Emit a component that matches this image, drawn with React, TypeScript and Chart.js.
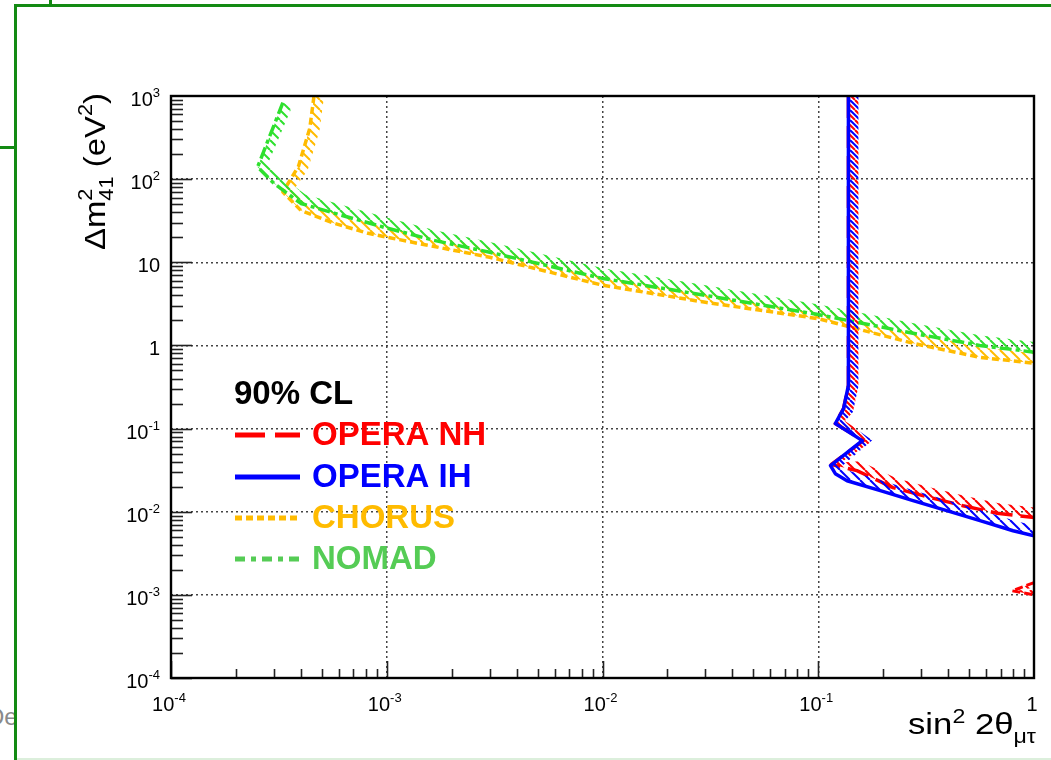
import React, { useEffect, useRef } from 'react';
import { Chart, registerables } from 'chart.js';

Chart.register(...registerables);

// ---------- axis ticks ----------
const xTickValues = [1e-4, 1e-3, 1e-2, 1e-1, 1];
const xTickLabels = ['10^-4', '10^-3', '10^-2', '10^-1', '1'];
const yTickValues = [1e-4, 1e-3, 1e-2, 1e-1, 1, 10, 100, 1000];
const yTickLabels = ['10^-4', '10^-3', '10^-2', '10^-1', '1', '10', '10^2', '10^3'];

// ---------- exclusion contours (sin^2 2θ, Δm^2) ----------
const ihX = [0.138, 0.138, 0.131, 0.120, 0.160, 0.114, 0.120, 0.136, 0.194, 0.275, 0.394, 0.562, 0.80, 1.0];
const ihY = [1000, 0.33, 0.174, 0.115, 0.0716, 0.0358, 0.0287, 0.0236, 0.0179, 0.0136, 0.0103, 0.0078, 0.0059, 0.00514];

const nhX = [0.138, 0.138, 0.131, 0.120, 0.162, 0.115, 0.151, 0.222, 0.33, 0.469, 0.674, 1.0];
const nhY = [1000, 0.33, 0.174, 0.115, 0.0716, 0.037, 0.0312, 0.0195, 0.0148, 0.0118, 0.0096, 0.0085];

const nhIslandX = [1.0, 0.79, 1.0];
const nhIslandY = [1.4e-3, 1.12e-3, 1.0e-3];

const chorusX = [4.6e-4, 4.4e-4, 3.9e-4, 3.3e-4, 4.0e-4, 5.7e-4, 8.2e-4, 1.39e-3, 3.0e-3, 1e-2, 3e-2, 1e-1, 0.275, 0.56, 1.0];
const chorusY = [1000, 411, 143, 70, 42, 29.5, 22.3, 16.9, 11.5, 5.3, 3.3, 2.1, 1.06, 0.72, 0.61];

const nomadX = [3.3e-4, 2.52e-4, 3.0e-4, 4.0e-4, 5.7e-4, 9.7e-4, 1.65e-3, 3.0e-3, 1e-2, 3e-2, 1e-1, 0.275, 0.56, 1.0];
const nomadY = [830, 140, 89, 51, 39, 26.4, 18.4, 13.2, 6.4, 4.0, 2.35, 1.40, 1.0, 0.83];

// ---------- legend ----------
const legendTitle = '90% CL';
const legendLabels = ['OPERA NH', 'OPERA IH', 'CHORUS', 'NOMAD'];

// ---------- styles ----------
const RED = '#ff0000';
const BLUE = '#0000ff';
const ORANGE = '#ffbb00';
const GREEN = '#2ee02e';
const GREEN_TEXT = '#55cc55';
const FONT = '"Liberation Sans", Arial, Helvetica, sans-serif';
const SLIDE_GREEN = '#138a13';

const legendColors = [RED, BLUE, ORANGE, GREEN_TEXT];
const legendLineColors = [RED, BLUE, ORANGE, GREEN_TEXT];
const legendDashes = [[30, 10], [], [7, 4], [10, 6, 5, 6]];

const pts = (xs: number[], ys: number[]) => xs.map((x, i) => ({ x, y: ys[i] }));

type Seg = { t: string; s: number; dy: number; stack?: boolean };

function richWidth(ctx: CanvasRenderingContext2D, segs: Seg[], weight: string) {
  let w = 0;
  let prevW = 0;
  for (const seg of segs) {
    ctx.font = `${weight} ${seg.s}px ${FONT}`;
    const sw = ctx.measureText(seg.t).width;
    if (seg.stack) {
      w += Math.max(0, sw - prevW);
      prevW = Math.max(prevW, sw);
    } else {
      w += sw;
      prevW = sw;
    }
  }
  return w;
}

function drawRich(
  ctx: CanvasRenderingContext2D,
  segs: Seg[],
  x: number,
  y: number,
  weight: string,
  color: string,
  scaleX = 1,
  rotate = 0
) {
  ctx.save();
  ctx.translate(x, y);
  if (rotate) ctx.rotate(rotate);
  ctx.scale(scaleX, 1);
  ctx.fillStyle = color;
  ctx.textAlign = 'left';
  ctx.textBaseline = 'alphabetic';
  let cx = 0;
  let prevX = 0;
  let prevW = 0;
  for (const seg of segs) {
    ctx.font = `${weight} ${seg.s}px ${FONT}`;
    const sw = ctx.measureText(seg.t).width;
    if (seg.stack) {
      ctx.fillText(seg.t, prevX, seg.dy);
      cx = prevX + Math.max(prevW, sw);
      prevW = Math.max(prevW, sw);
    } else {
      ctx.fillText(seg.t, cx, seg.dy);
      prevX = cx;
      prevW = sw;
      cx += sw;
    }
  }
  ctx.restore();
}

function tickSegs(label: string): Seg[] {
  const [base, exp] = label.split('^');
  const segs: Seg[] = [{ t: base, s: 20, dy: 0 }];
  if (exp) segs.push({ t: exp, s: 13, dy: -9 });
  return segs;
}

const patternCache: Record<string, CanvasPattern | null> = {};
function hatchPattern(ctx: CanvasRenderingContext2D, color: string, phase: number) {
  const key = color + phase;
  if (patternCache[key]) return patternCache[key];
  const s = 10;
  const c = document.createElement('canvas');
  c.width = s;
  c.height = s;
  const g = c.getContext('2d')!;
  g.strokeStyle = color;
  g.lineWidth = 2;
  for (let k = -2; k <= 1; k++) {
    g.beginPath();
    g.moveTo(k * s + phase, 0);
    g.lineTo(k * s + s + phase, s);
    g.stroke();
  }
  const p = ctx.createPattern(c, 'repeat');
  patternCache[key] = p;
  return p;
}

const hatchPlugin = {
  id: 'hatchBand',
  beforeDatasetDraw(chart: any, args: any) {
    const ds = chart.data.datasets[args.index];
    if (!ds.hatch) return;
    const p = args.meta.data.map((e: any) => ({ x: e.x, y: e.y }));
    const n = p.length;
    if (n < 2) return;
    const w = ds.hatchWidth ?? 10;
    const segN: { x: number; y: number }[] = [];
    for (let i = 0; i < n - 1; i++) {
      const dx = p[i + 1].x - p[i].x;
      const dy = p[i + 1].y - p[i].y;
      const l = Math.hypot(dx, dy) || 1;
      segN.push({ x: dy / l, y: -dx / l });
    }
    const off = p.map((pt: any, i: number) => {
      let nx = 0;
      let ny = 0;
      if (i > 0) { nx += segN[i - 1].x; ny += segN[i - 1].y; }
      if (i < n - 1) { nx += segN[i].x; ny += segN[i].y; }
      const l = Math.hypot(nx, ny) || 1;
      return { x: pt.x + (nx / l) * w, y: pt.y + (ny / l) * w };
    });
    const ctx = chart.ctx as CanvasRenderingContext2D;
    const a = chart.chartArea;
    ctx.save();
    ctx.beginPath();
    ctx.rect(a.left, a.top, a.right - a.left, a.bottom - a.top);
    ctx.clip();
    ctx.beginPath();
    ctx.moveTo(p[0].x, p[0].y);
    for (let i = 1; i < n; i++) ctx.lineTo(p[i].x, p[i].y);
    for (let i = n - 1; i >= 0; i--) ctx.lineTo(off[i].x, off[i].y);
    ctx.closePath();
    ctx.fillStyle = hatchPattern(ctx, ds.hatch, ds.hatchPhase ?? 0) as any;
    ctx.fill();
    ctx.restore();
  },
};

const decorPlugin = {
  id: 'rootDecor',
  afterDraw(chart: any) {
    const ctx = chart.ctx as CanvasRenderingContext2D;
    const a = chart.chartArea;
    const xs = chart.scales.x;
    const ys = chart.scales.y;

    // tick marks (inside the frame)
    ctx.save();
    ctx.strokeStyle = '#222';
    ctx.lineWidth = 1.6;
    for (let d = -4; d <= 2; d++) {
      for (let m = 1; m <= 9; m++) {
        const v = m * Math.pow(10, d);
        const py = Math.round(ys.getPixelForValue(v)) + 0.5;
        const len = m === 1 ? 21 : 12;
        ctx.beginPath();
        ctx.moveTo(a.left, py);
        ctx.lineTo(a.left + len, py);
        ctx.stroke();
      }
    }
    for (let d = -4; d <= -1; d++) {
      for (let m = 1; m <= 9; m++) {
        const v = m * Math.pow(10, d);
        const px = Math.round(xs.getPixelForValue(v)) + 0.5;
        const len = m === 1 ? 17 : 9;
        ctx.beginPath();
        ctx.moveTo(px, a.bottom);
        ctx.lineTo(px, a.bottom - len);
        ctx.stroke();
      }
    }
    // frame
    ctx.lineWidth = 2.4;
    ctx.strokeStyle = '#000';
    ctx.strokeRect(a.left, a.top, a.right - a.left, a.bottom - a.top);
    ctx.restore();

    // tick labels
    yTickValues.forEach((v, i) => {
      const segs = tickSegs(yTickLabels[i]);
      const w = richWidth(ctx, segs, 'normal');
      const py = ys.getPixelForValue(v);
      drawRich(ctx, segs, 160 - w, py + 10, 'normal', '#000');
    });
    xTickValues.forEach((v, i) => {
      const segs = tickSegs(xTickLabels[i]);
      const w = richWidth(ctx, segs, 'normal');
      const px = xs.getPixelForValue(v);
      drawRich(ctx, segs, px - 2 - w / 2, 711, 'normal', '#000');
    });

    // axis titles
    const xTitle: Seg[] = [
      { t: 'sin', s: 30, dy: 0 },
      { t: '2', s: 20, dy: -11 },
      { t: ' 2θ', s: 30, dy: 0 },
      { t: 'μτ', s: 20, dy: 9 },
    ];
    const xw = richWidth(ctx, xTitle, 'normal');
    drawRich(ctx, xTitle, 908, 734, 'normal', '#000', 128 / xw);

    const yTitle: Seg[] = [
      { t: 'Δm', s: 30, dy: 0 },
      { t: '2', s: 20, dy: -13 },
      { t: '41', s: 20, dy: 8, stack: true },
      { t: ' (eV', s: 30, dy: 0 },
      { t: '2', s: 20, dy: -13 },
      { t: ')', s: 30, dy: 0 },
    ];
    const yw = richWidth(ctx, yTitle, 'normal');
    drawRich(ctx, yTitle, 105, 250, 'normal', '#000', 157 / yw, -Math.PI / 2);

    // legend
    ctx.save();
    ctx.textAlign = 'left';
    ctx.textBaseline = 'alphabetic';
    ctx.font = `bold 33px ${FONT}`;
    ctx.fillStyle = '#000';
    ctx.fillText(legendTitle, 234, 404);
    const baselines = [445, 487, 528, 569];
    legendLabels.forEach((lab, i) => {
      const by = baselines[i];
      const ly = by - 10;
      ctx.save();
      ctx.strokeStyle = legendLineColors[i];
      ctx.lineWidth = 5;
      ctx.setLineDash(legendDashes[i]);
      ctx.beginPath();
      ctx.moveTo(235, ly);
      ctx.lineTo(300, ly);
      ctx.stroke();
      ctx.restore();
      ctx.font = `bold 33px ${FONT}`;
      ctx.fillStyle = legendColors[i];
      ctx.fillText(lab, 312, by);
    });
    ctx.restore();
  },
};

export default function App() {
  const ref = useRef<HTMLCanvasElement>(null);
  useEffect(() => {
    const canvas = ref.current!;
    const common = {
      showLine: true,
      pointRadius: 0,
      pointHoverRadius: 0,
      fill: false,
      tension: 0,
      borderCapStyle: 'butt',
      borderJoinStyle: 'round',
    };
    const chart = new Chart(canvas, {
      type: 'scatter',
      data: {
        datasets: [
          { ...common, label: 'OPERA IH', data: pts(ihX, ihY), borderColor: BLUE, borderWidth: 3.5, order: 0, hatch: BLUE, hatchPhase: 0 } as any,
          { ...common, label: 'OPERA NH', data: pts(nhX, nhY), borderColor: RED, borderWidth: 3.5, borderDash: [22, 8], order: 1, hatch: RED, hatchPhase: 5 } as any,
          { ...common, label: 'OPERA NH (island)', data: pts(nhIslandX, nhIslandY), borderColor: RED, borderWidth: 3, borderDash: [8, 4], order: 1, hatch: RED, hatchWidth: 5 } as any,
          { ...common, label: 'NOMAD', data: pts(nomadX, nomadY), borderColor: GREEN, borderWidth: 3.5, borderDash: [12, 4, 4, 4], order: 2, hatch: GREEN } as any,
          { ...common, label: 'CHORUS', data: pts(chorusX, chorusY), borderColor: ORANGE, borderWidth: 3.5, borderDash: [7, 4], order: 3, hatch: ORANGE } as any,
        ],
      },
      options: {
        responsive: false,
        animation: false,
        devicePixelRatio: 1,
        events: [],
        layout: { padding: { left: 171, top: 96, right: 17, bottom: 82 } },
        plugins: { legend: { display: false }, tooltip: { enabled: false } },
        scales: {
          x: {
            type: 'logarithmic',
            min: 1e-4,
            max: 1,
            afterBuildTicks: (s: any) => { s.ticks = xTickValues.map((v) => ({ value: v })); },
            ticks: { display: false },
            grid: { color: '#444', lineWidth: 1.5, drawTicks: false },
            border: { display: false, dash: [2, 3] },
          },
          y: {
            type: 'logarithmic',
            min: 1e-4,
            max: 1000,
            afterBuildTicks: (s: any) => { s.ticks = yTickValues.map((v) => ({ value: v })); },
            ticks: { display: false },
            grid: { color: '#444', lineWidth: 1.5, drawTicks: false },
            border: { display: false, dash: [2, 3] },
          },
        },
      } as any,
      plugins: [hatchPlugin, decorPlugin],
    });
    return () => chart.destroy();
  }, []);

  return (
    <div style={{ position: 'fixed', left: 0, top: 0, width: 1051, height: 760, background: '#fff', overflow: 'hidden' }}>
      <span style={{ position: 'absolute', left: -13, top: 705, font: `24px ${FONT}`, lineHeight: '24px', color: '#8a8a8a', whiteSpace: 'nowrap' }}>De</span>
      <div style={{ position: 'absolute', left: 14, top: 4, width: 1051 - 14, height: 3, background: SLIDE_GREEN }} />
      <div style={{ position: 'absolute', left: 14, top: 4, width: 3, height: 756, background: SLIDE_GREEN }} />
      <div style={{ position: 'absolute', left: 49, top: 0, width: 3, height: 5, background: SLIDE_GREEN }} />
      <div style={{ position: 'absolute', left: 0, top: 146, width: 15, height: 3, background: SLIDE_GREEN }} />
      <div style={{ position: 'absolute', left: 17, top: 758, width: 1051 - 17, height: 2, background: '#dcefdc' }} />
      <canvas ref={ref} width={1051} height={760} style={{ position: 'absolute', left: 0, top: 0, width: 1051, height: 760 }} />
    </div>
  );
}
